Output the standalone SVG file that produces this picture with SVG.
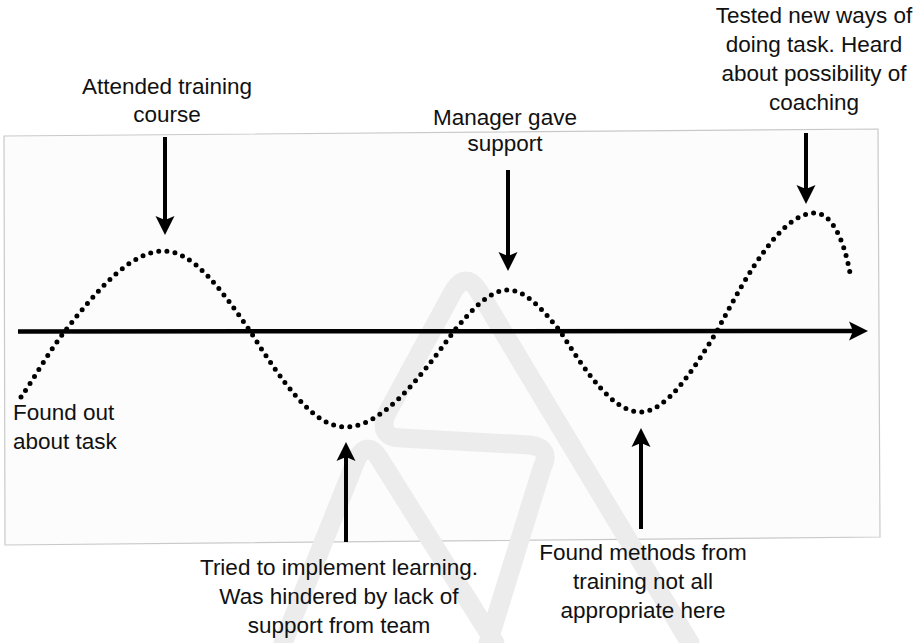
<svg xmlns="http://www.w3.org/2000/svg" width="913" height="643" viewBox="0 0 913 643">
  <defs>
    <style>
      .lbl { font-family: "Liberation Sans", Arial, Helvetica, sans-serif; font-size: 22.5px; fill: #111; text-anchor: middle; }
      .lbl-start { text-anchor: start; }
      .shaft { stroke: #000; stroke-width: 4; fill: none; marker-end: url(#head); }
      .wm { fill: none; stroke: #ececec; stroke-width: 19; stroke-linecap: round; stroke-linejoin: round; }
    </style>
    <marker id="head" viewBox="0 0 20 20" markerUnits="userSpaceOnUse" markerWidth="20" markerHeight="20" refX="4" refY="10" orient="auto">
      <path d="M0,0.5 L19,10 L0,19.5 L4,10 Z" fill="#000"/>
    </marker>
  </defs>

  <rect x="0" y="0" width="913" height="643" fill="#ffffff"/>

  <!-- panel -->
  <polygon points="4,136 878,129 880,537 5,545" fill="#fcfcfc" stroke="#c9c9c9" stroke-width="1.2"/>

  <!-- faint watermark -->
  <g id="watermark">
    <path class="wm" d="M690,643 L478,290 Q466,272 454,290 L386,415 Q378,438 402,438 L530,445 Q552,448 542,468 L488,643"/>
    <path class="wm" d="M283,643 L357,458 Q368,440 379,458 L495,643"/>
  </g>

  <!-- timeline axis and dotted curve -->
  <g id="chart">
    <line x1="18" y1="331.5" x2="853" y2="331" stroke="#000" stroke-width="4.5" marker-end="url(#head)"/>
    <path d="M21,397 C35,377 50,350 65,331 C98,289 131,251 164,251 C192.7,251 221.3,289.1 250,331 C281.7,381.3 313.3,427 345,427 C381.3,427 417.7,381.3 454,331 C472,309.5 490,290 508,290 C525.3,290 542.7,309.5 560,331 C586.7,373.4 613.3,412 640,412 C665.7,412 691.3,373.4 717,331 C749.7,269.2 782.3,213 815,213 C830,213 843,235 850,273" fill="none" stroke="#000" stroke-width="5" stroke-linecap="round" stroke-dasharray="0 8.2"/>
  </g>

  <!-- connectors -->
  <g id="connectors">
    <line class="shaft" x1="165" y1="137" x2="165" y2="220"/>
    <line class="shaft" x1="508" y1="170" x2="508" y2="256"/>
    <line class="shaft" x1="806" y1="133" x2="806" y2="189"/>
    <line class="shaft" x1="346" y1="542" x2="346" y2="457"/>
    <line class="shaft" x1="641" y1="529" x2="641" y2="443"/>
  </g>

  <!-- labels -->
  <g id="n-found-out">
    <text class="lbl lbl-start" x="13" y="420">Found out</text>
    <text class="lbl lbl-start" x="13" y="449">about task</text>
  </g>
  <g id="n-attended">
    <text class="lbl" x="167" y="94">Attended training</text>
    <text class="lbl" x="167" y="122">course</text>
  </g>
  <g id="n-manager">
    <text class="lbl" x="505" y="125">Manager gave</text>
    <text class="lbl" x="505" y="151">support</text>
  </g>
  <g id="n-tested">
    <text class="lbl" x="814" y="23">Tested new ways of</text>
    <text class="lbl" x="814" y="52">doing task. Heard</text>
    <text class="lbl" x="814" y="81">about possibility of</text>
    <text class="lbl" x="814" y="110">coaching</text>
  </g>
  <g id="n-tried">
    <text class="lbl" x="339" y="575">Tried to implement learning.</text>
    <text class="lbl" x="339" y="604">Was hindered by lack of</text>
    <text class="lbl" x="339" y="633">support from team</text>
  </g>
  <g id="n-found-methods">
    <text class="lbl" x="643" y="560">Found methods from</text>
    <text class="lbl" x="643" y="589">training not all</text>
    <text class="lbl" x="643" y="618">appropriate here</text>
  </g>
</svg>
